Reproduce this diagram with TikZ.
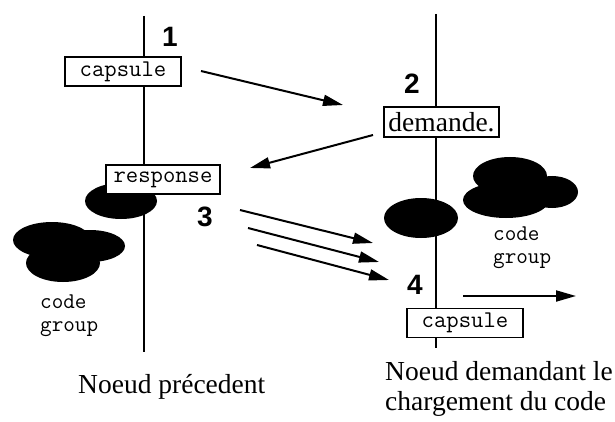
\documentclass[tikz,border=0pt]{standalone}
\usepackage{fontspec}
\setmainfont{Liberation Serif}
\setsansfont{Liberation Sans}
\usetikzlibrary{arrows.meta}
\begin{document}
\begin{tikzpicture}[x=1pt,y=-1pt,
  box/.style={draw, line width=1.3pt, fill=white, inner sep=0pt, minimum height=29pt},
  mono/.style={font=\fontsize{24}{24}\selectfont\ttfamily},
  monolab/.style={font=\fontsize{22.5}{22.5}\selectfont\ttfamily},
  num/.style={font=\fontsize{28}{30}\selectfont\sffamily\bfseries},
  serif/.style={font=\fontsize{27.5}{30}\selectfont},
  arr/.style={line width=2pt, -{Triangle[length=20pt,width=11pt]}},
  vline/.style={line width=1.3pt},
  blob/.style={fill=black}]
\useasboundingbox (0,0) rectangle (615,422);
% vertical lines
\coordinate (Ltop) at (144,16);
\coordinate (Lbot) at (144,352);
\coordinate (Rtop) at (436,14);
\coordinate (Rbot) at (436,348);
\draw[vline] (Ltop) -- (Lbot);
\draw[vline] (Rtop) -- (Rbot);
% blobs
\fill[blob] (121,201) ellipse [x radius=36, y radius=18];
\fill[blob] (52,240) ellipse [x radius=39, y radius=18];
\fill[blob] (90,246) ellipse [x radius=35, y radius=16];
\fill[blob] (63,263) ellipse [x radius=37, y radius=19];
\fill[blob] (421,218) ellipse [x radius=37, y radius=20];
\fill[blob] (510,176) ellipse [x radius=37, y radius=19];
\fill[blob] (552,192) ellipse [x radius=26, y radius=16];
\fill[blob] (506,200) ellipse [x radius=43, y radius=18];
% boxes
\node[box, mono, minimum width=116pt] (cap1) at (123,71.5) {capsule};
\node[box, mono, minimum width=114pt] (resp) at (163,179.5) {response};
\node[box, serif, minimum width=115pt, minimum height=30pt] (dem) at (441.5,122) {demande.};
\node[box, mono, minimum width=116pt] (cap2) at (465,323) {capsule};
% numbers
\node[num] (n1) at (170,37) {1};
\node[num] (n2) at (412,84) {2};
\node[num] (n3) at (205,217) {3};
\node[num] (n4) at (415,285) {4};
% code group labels
\node[monolab, align=left, anchor=north west, inner sep=0pt] (cg1) at (40,295) {code\\group};
\node[monolab, align=left, anchor=north west, inner sep=0pt] (cg2) at (493,227) {code\\group};
% bottom labels
\node[serif, anchor=base west, inner sep=0pt] (lab1) at (78,393) {Noeud précedent};
\node[serif, align=left, anchor=north west, inner sep=0pt] (lab2) at (385,361) {Noeud demandant le\\chargement du code};
% arrows
\coordinate (a1s) at (201,71);  \coordinate (a1e) at (343,105);
\coordinate (a2s) at (373,135); \coordinate (a2e) at (250,168);
\coordinate (a3s) at (240,210); \coordinate (a3e) at (373,243);
\coordinate (a4s) at (248,228); \coordinate (a4e) at (379,262);
\coordinate (a5s) at (257,245); \coordinate (a5e) at (389,280);
\coordinate (a6s) at (463,296); \coordinate (a6e) at (576,296);
\draw[arr] (a1s) -- (a1e);
\draw[arr] (a2s) -- (a2e);
\draw[arr] (a3s) -- (a3e);
\draw[arr] (a4s) -- (a4e);
\draw[arr] (a5s) -- (a5e);
\draw[arr] (a6s) -- (a6e);
\end{tikzpicture}
\end{document}
